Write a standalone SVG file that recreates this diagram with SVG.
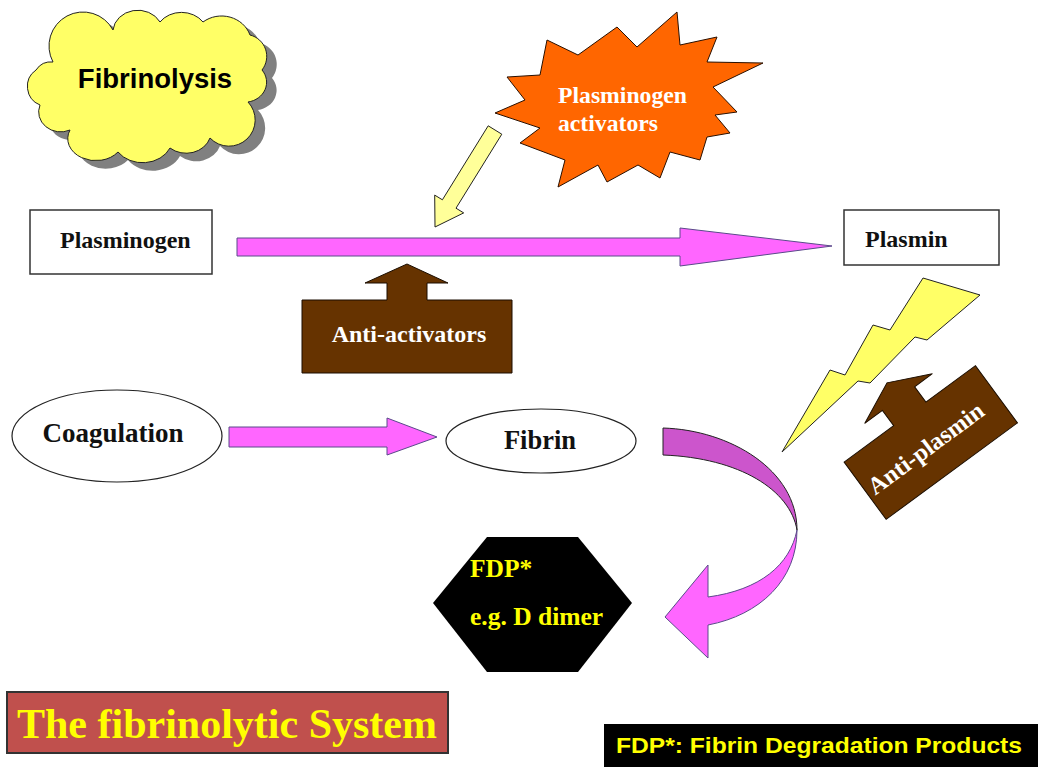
<svg xmlns="http://www.w3.org/2000/svg" width="1038" height="767" viewBox="0 0 1038 767">
  <style>
    .serif { font-family: "Liberation Serif", "Times New Roman", serif; font-weight: bold; }
    .sans { font-family: "Liberation Sans", Arial, sans-serif; font-weight: bold; }
    .box { fill: #ffffff; stroke: #333333; stroke-width: 1.5; }
    .pink { fill: #ff66ff; stroke: #5a4a8a; stroke-width: 1; }
    .brown { fill: #663300; stroke: #1a0d00; stroke-width: 1; }
    .dark { fill: #111111; }
    .light { fill: #ffffff; }
  </style>

  <rect width="1038" height="767" fill="#ffffff"/>

  <!-- title cloud -->
  <g id="cloud">
    <path transform="translate(10,8)" fill="#808080" d="M53,62 A30,30 0 0 1 113,30 A25,22 0 0 1 160,22 A26,22 0 0 1 203,22 A30,28 0 0 1 250,35 A22,22 0 0 1 262,70 A22,20 0 0 1 248,102 A25,25 0 0 1 210,138 A25,22 0 0 1 170,148 A30,25 0 0 1 118,152 A28,22 0 0 1 70,130 A22,20 0 0 1 40,105 A20,20 0 0 1 36,70 A18,18 0 0 1 53,62 Z"/>
    <path fill="#ffff66" stroke="#222222" stroke-width="1" d="M53,62 A30,30 0 0 1 113,30 A25,22 0 0 1 160,22 A26,22 0 0 1 203,22 A30,28 0 0 1 250,35 A22,22 0 0 1 262,70 A22,20 0 0 1 248,102 A25,25 0 0 1 210,138 A25,22 0 0 1 170,148 A30,25 0 0 1 118,152 A28,22 0 0 1 70,130 A22,20 0 0 1 40,105 A20,20 0 0 1 36,70 A18,18 0 0 1 53,62 Z"/>
    <text class="sans" x="155" y="88" text-anchor="middle" font-size="27.5" fill="#000000">Fibrinolysis</text>
  </g>

  <!-- activators starburst -->
  <g id="activators">
    <polygon fill="#ff6600" stroke="#2a1000" stroke-width="1" points="547,40 578,55 617,27 637,47 677,12 680,45 717,37 707,62 763,63 713,87 737,112 715,115 730,133 707,137 700,160 670,152 660,178 638,165 607,182 598,165 558,187 565,160 520,143 540,128 495,113 525,100 507,77 540,75"/>
    <text class="serif light" x="558" y="103" font-size="23.7">Plasminogen</text>
    <text class="serif light" x="558" y="131" font-size="23.7">activators</text>
  </g>

  <g id="plasminogen">
    <rect class="box" x="30" y="210" width="182" height="64"/>
    <text class="serif dark" x="60" y="248" font-size="24">Plasminogen</text>
  </g>

  <g id="plasmin">
    <rect class="box" x="844" y="210" width="155" height="55"/>
    <text class="serif dark" x="865" y="247" font-size="24">Plasmin</text>
  </g>

  <g id="anti-activators">
    <polygon class="brown" points="302,300 387,300 387,283 365,283 407,264 448,283 427,283 427,300 512,300 512,373 302,373"/>
    <text class="serif light" x="409" y="342" text-anchor="middle" font-size="24">Anti-activators</text>
  </g>

  <g id="coagulation">
    <ellipse cx="117" cy="436" rx="105" ry="46" fill="#ffffff" stroke="#222222" stroke-width="1.2"/>
    <text class="serif dark" x="113" y="442" text-anchor="middle" font-size="27">Coagulation</text>
  </g>

  <g id="fibrin">
    <ellipse cx="541" cy="441" rx="95" ry="32" fill="#ffffff" stroke="#222222" stroke-width="1.2"/>
    <text class="serif dark" x="540" y="449" text-anchor="middle" font-size="26.5">Fibrin</text>
  </g>

  <g id="anti-plasmin" transform="translate(930.8,442.5) rotate(-36.3)">
    <polygon class="brown" points="-81.5,-35.5 -20,-35.5 -20,-54.5 -42,-54.5 0,-74 42,-54.5 20,-54.5 20,-35.5 81.5,-35.5 81.5,35.5 -81.5,35.5"/>
    <text class="serif light" x="-7.5" y="10" text-anchor="middle" font-size="24.5">Anti-plasmin</text>
  </g>

  <g id="fdp">
    <polygon fill="#000000" points="487,537 578,537 632,603 578,672 487,672 433,603"/>
    <text class="serif" x="470" y="577" font-size="25.5" fill="#ffff00">FDP*</text>
    <text class="serif" x="470" y="625" font-size="25.5" fill="#ffff00">e.g. D dimer</text>
  </g>

  <g id="title">
    <rect x="7" y="692" width="441" height="61" fill="#c0504d" stroke="#333333" stroke-width="2"/>
    <text class="serif" x="227" y="738" text-anchor="middle" font-size="42" fill="#ffff00">The fibrinolytic System</text>
  </g>

  <g id="legend">
    <rect x="604" y="724" width="434" height="43" fill="#000000"/>
    <text class="sans" x="616" y="753" font-size="22" fill="#ffff00" textLength="406" lengthAdjust="spacingAndGlyphs">FDP*: Fibrin Degradation Products</text>
  </g>

  <g id="connectors">
    <!-- plasminogen to plasmin -->
    <polygon class="pink" points="237,238 680,238 680,228 832,246 680,266 680,256 237,256"/>
    <!-- coagulation to fibrin -->
    <polygon class="pink" points="229,427 387,427 387,418 437,437 387,455 387,447 229,447"/>
    <!-- activators acting on the conversion -->
    <polygon fill="#ffff99" stroke="#222222" stroke-width="1" points="488.2,125.8 501.8,134.2 456,208.2 463.7,212.9 435,227 434.7,195.1 442.4,199.8"/>
    <!-- plasmin acting on fibrin -->
    <polygon fill="#ffff66" stroke="#222222" stroke-width="1" points="923,278 980,295 927,340 915,337 870,383 858,381 782,452 830,370 845,375 873,325 890,330"/>
    <!-- fibrin breakdown to FDP -->
    <path fill="#cc55cc" stroke="#222222" stroke-width="1" d="M663,428 C730,430 797,470 797,530 C790,490 740,458 663,455 Z"/>
    <path class="pink" stroke="#222222" d="M797,530 C797,580 760,615 708,625 L708,658 L665,617 L708,565 L708,597 C760,590 790,565 797,530 Z"/>
  </g>
</svg>
